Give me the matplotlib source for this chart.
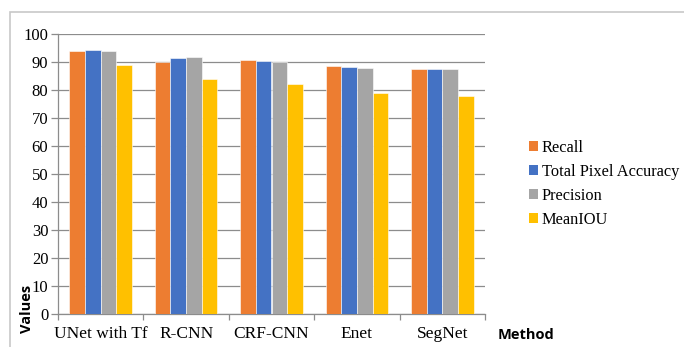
import numpy as np
import matplotlib
matplotlib.use('Agg')
import matplotlib.pyplot as plt
from matplotlib.patches import Rectangle, Patch

methods = ['UNet with Tf', 'R-CNN', 'CRF-CNN', 'Enet', 'SegNet']
metrics = ['Recall', 'Total Pixel Accuracy', 'Precision', 'MeanIOU']
recall = [94.0, 90.0, 90.7, 88.7, 87.5]
pixel_acc = [94.2, 91.3, 90.2, 88.2, 87.5]
precision = [94.1, 91.8, 90.0, 87.8, 87.5]
mean_iou = [89.0, 84.0, 82.0, 79.0, 77.7]
colors = ['#ED7D31', '#4472C4', '#A5A5A5', '#FFC000']

W, H = 684, 347
fig = plt.figure(figsize=(W / 100, H / 100), dpi=100)
ax = fig.add_axes([58 / W, 1 - 314 / H, (485 - 58) / W, (314 - 34) / H])

# light outer frame around the whole chart
fig.patches.append(Rectangle((10 / W, -0.1), 1.2, 1.1 - 12 / H,
                             transform=fig.transFigure, fill=False,
                             edgecolor='#c8c8c8', linewidth=1.2))

x = np.arange(len(methods))
w = 0.183
series = [recall, pixel_acc, precision, mean_iou]
for j, vals in enumerate(series):
    ax.bar(x + (j - 1.5) * w, vals, w, color=colors[j],
           edgecolor='white', linewidth=0.4, zorder=3)

ax.set_xlim(-0.5, len(methods) - 0.5)
ax.set_ylim(0, 100)
ax.set_yticks(range(0, 101, 10))
ax.grid(axis='y', color='#8c8c8c', linewidth=0.9, zorder=0)
for s in ['top', 'right']:
    ax.spines[s].set_visible(False)
for s in ['left', 'bottom']:
    ax.spines[s].set_color('#8c8c8c')
    ax.spines[s].set_linewidth(0.9)

ax.set_xticks(x)
ax.set_xticks(np.arange(-0.5, len(methods)), minor=True)
ax.set_xticklabels(methods, family='Liberation Serif', fontsize=12.5)
ax.tick_params(axis='x', which='major', length=0, pad=9)
ax.tick_params(axis='x', which='minor', length=4, color='#8c8c8c', width=0.9)
ax.tick_params(axis='y', length=5, color='#8c8c8c', width=0.9, pad=2)
for lab in ax.get_yticklabels():
    lab.set_family('Liberation Serif')
    lab.set_fontsize(12)

fig.text(27 / W, 1 - 309 / H, 'Values', rotation=90, ha='center', va='center',
         fontsize=10.5, fontweight='bold', family='Open Sans')
fig.text(498 / W, 1 - 335 / H, 'Method', ha='left', va='center',
         fontsize=10.5, fontweight='bold', family='Open Sans')

handles = [Patch(facecolor=c, edgecolor='none') for c in colors]
fig.legend(handles, metrics, loc='upper left', bbox_to_anchor=(522 / W, 1 - 133 / H),
           frameon=False, prop={'family': 'Liberation Serif', 'size': 11.8},
           handlelength=0.55, handleheight=0.55, handletextpad=0.25,
           labelspacing=0.5, borderaxespad=0)

fig.savefig('out.png', dpi=100)
